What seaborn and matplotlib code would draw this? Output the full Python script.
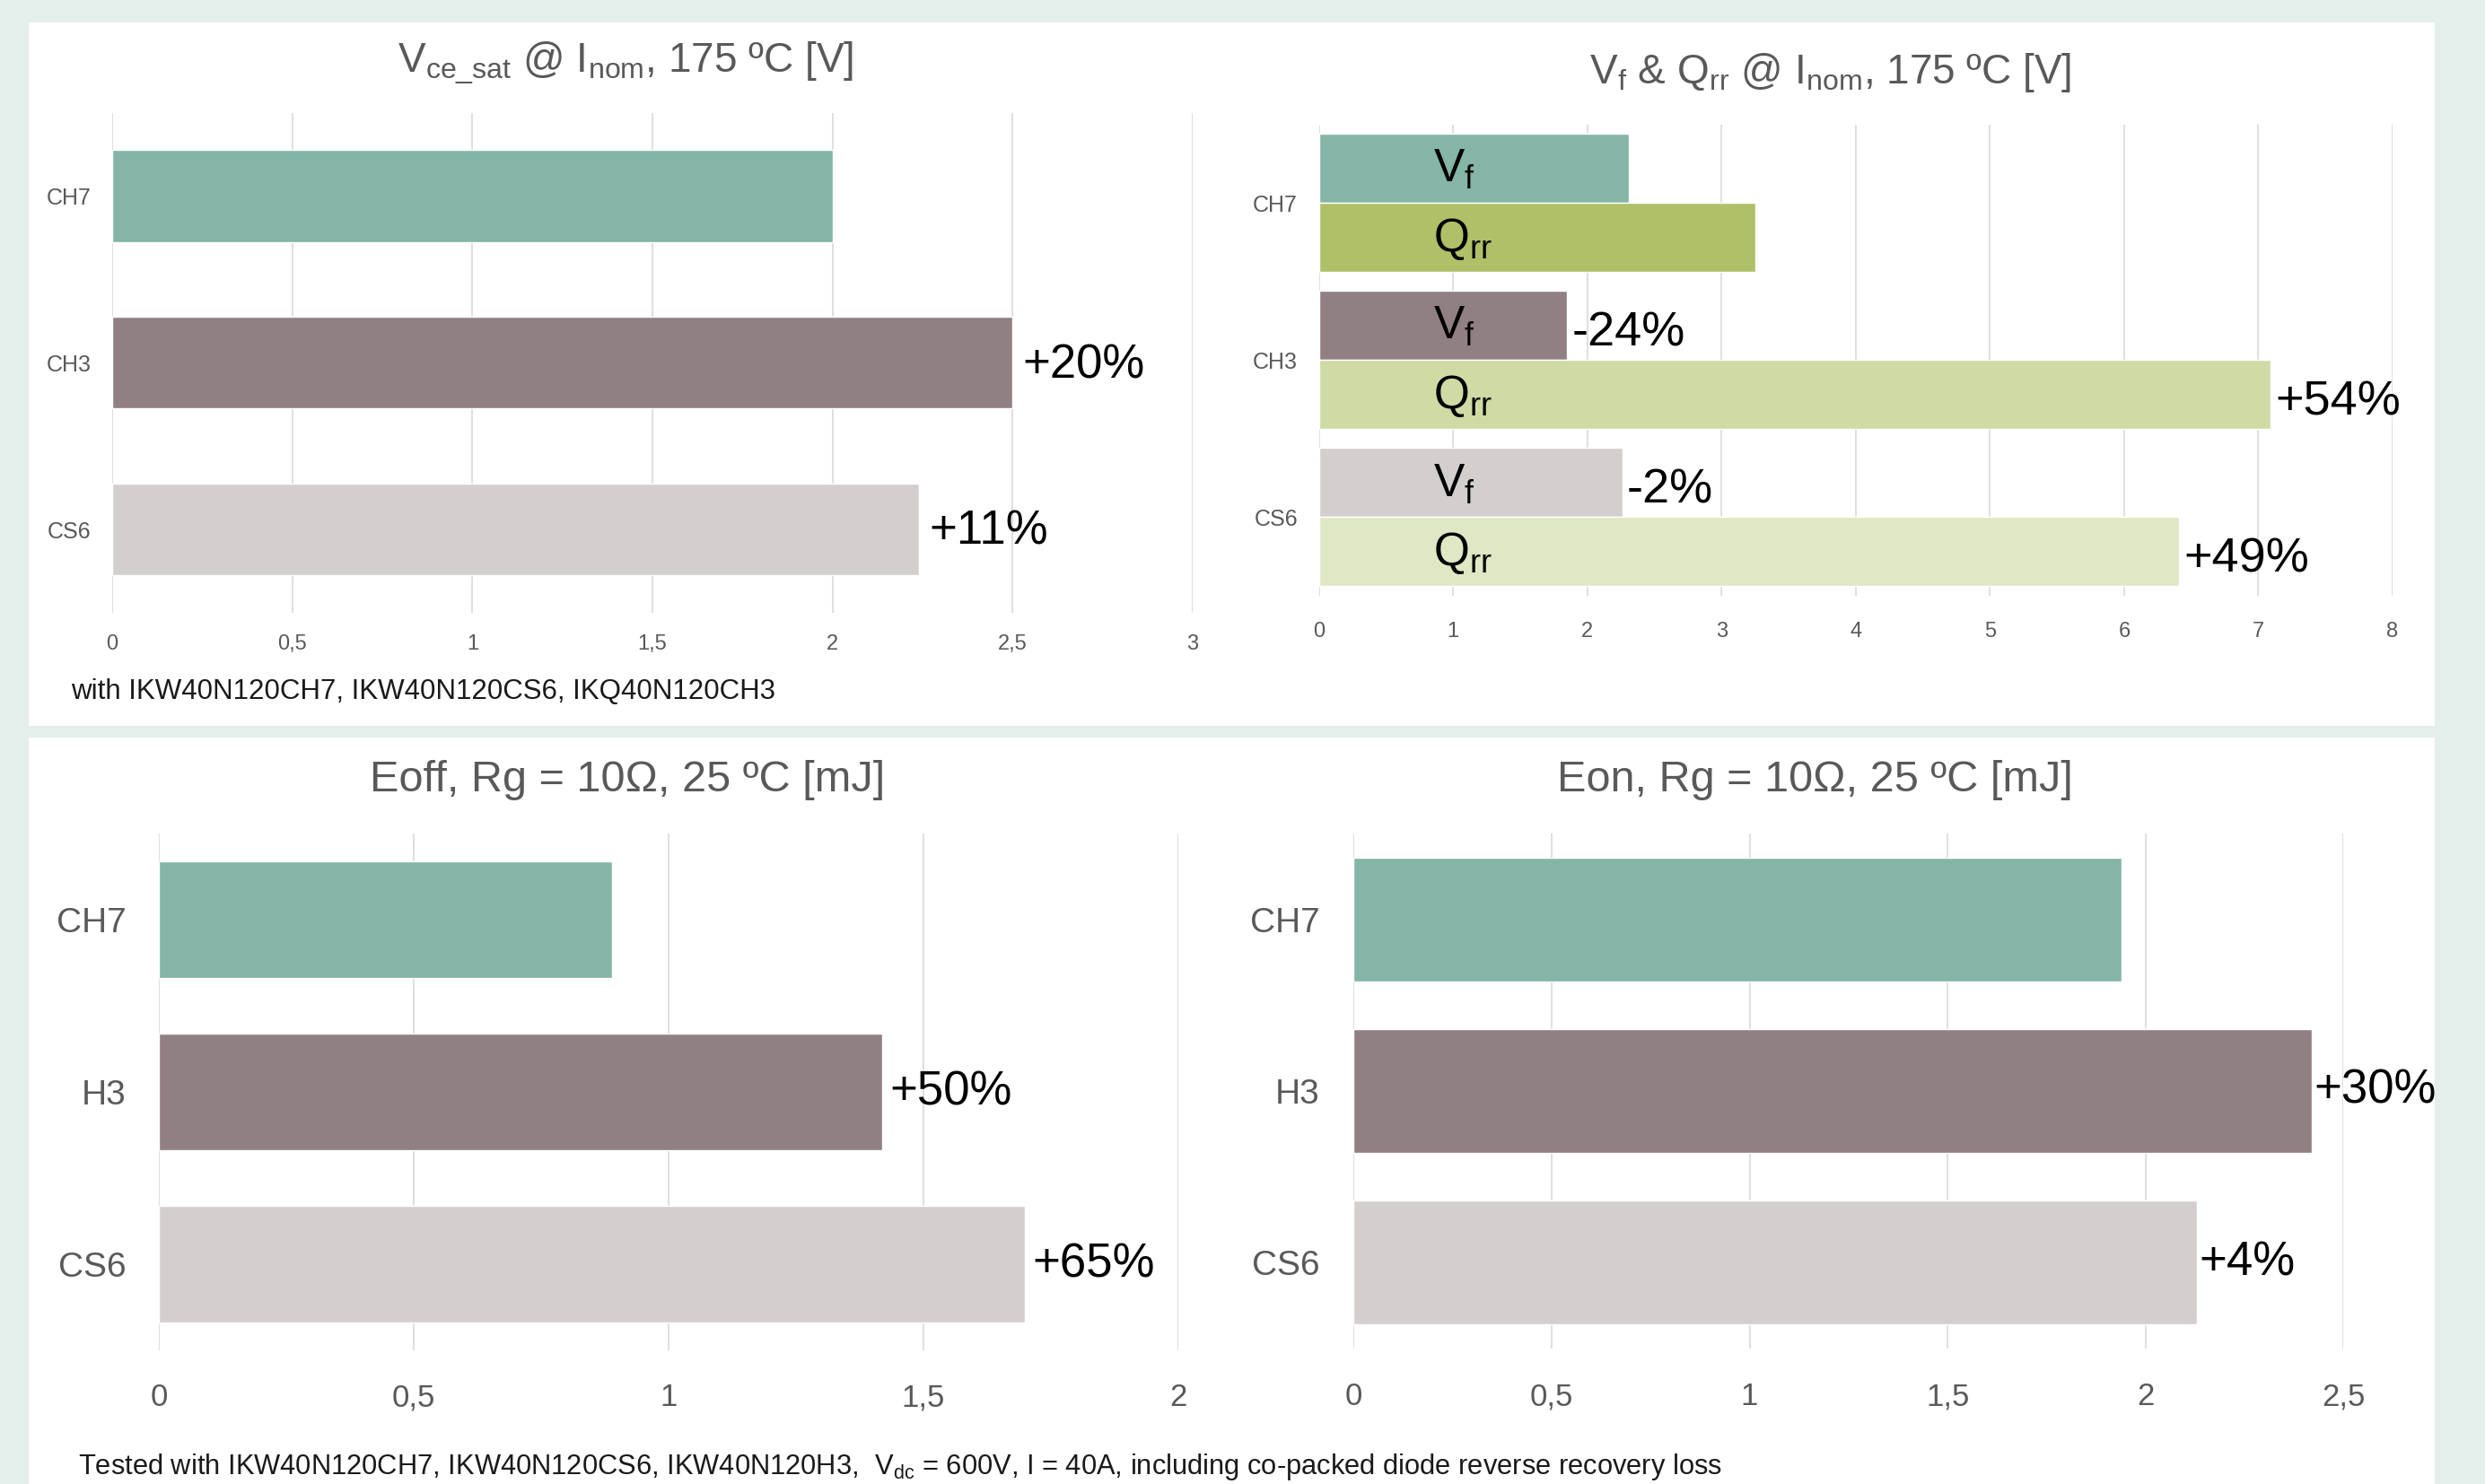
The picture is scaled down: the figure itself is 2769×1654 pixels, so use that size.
import matplotlib
matplotlib.use("Agg")
import matplotlib.pyplot as plt
from matplotlib.patches import Rectangle
from matplotlib.ticker import FuncFormatter, MultipleLocator
import seaborn as sns
import pandas as pd

# ---------------- data ----------------
cats_top = ["CH7", "CH3", "CS6"]
vce_sat = [2.0, 2.5, 2.24]
vce_labels = ["", "+20%", "+11%"]

vf = [2.31, 1.85, 2.26]
qrr = [3.25, 7.09, 6.41]
vf_labels = ["", "-24%", "-2%"]
qrr_labels = ["", "+54%", "+49%"]
params = ["Vf", "Qrr"]
param_text = {"Vf": r"$\mathregular{V_f}$", "Qrr": r"$\mathregular{Q_{rr}}$"}

cats_bot = ["CH7", "H3", "CS6"]
eoff = [0.89, 1.42, 1.70]
eoff_labels = ["", "+50%", "+65%"]
eon = [1.94, 2.42, 2.13]
eon_labels = ["", "+30%", "+4%"]

colors_main = ["#84b5a6", "#918083", "#d4cfcf"]
colors_qrr = ["#afc068", "#cfdaa5", "#dfe7c4"]

# ---------------- style ----------------
sns.set_style("white")
plt.rcParams["font.family"] = ["Liberation Sans", "DejaVu Sans"]
plt.rcParams["mathtext.fontset"] = "custom"
plt.rcParams["mathtext.rm"] = "Liberation Sans"

GRAY = "#595959"
W, H = 2769, 1654
fig = plt.figure(figsize=(W / 100, H / 100), dpi=100, facecolor="#e4eeea")

# white panels
for (x0, y0, x1, y1) in [(32, 25, 2713, 809), (32, 822, 2713, H + 5)]:
    fig.patches.append(Rectangle((x0 / W, 1 - y1 / H), (x1 - x0) / W, (y1 - y0) / H,
                                 transform=fig.transFigure, facecolor="white",
                                 edgecolor="none", zorder=-5))


def px_axes(x0, y0, x1, y1):
    return fig.add_axes([x0 / W, 1 - y1 / H, (x1 - x0) / W, (y1 - y0) / H])


comma = FuncFormatter(lambda v, p: f"{v:g}".replace(".", ","))


def style_axis(ax, xmax, step, ysize, xsize, ypad, xpad):
    ax.set_facecolor("white")
    ax.set_xlim(0, xmax)
    ax.set_ylim(2.5, -0.5)
    ax.xaxis.set_major_locator(MultipleLocator(step))
    ax.xaxis.set_major_formatter(comma)
    for s in ax.spines.values():
        s.set_visible(False)
    ax.grid(axis="x", color="#d9d9d9", linewidth=1.2)
    ax.grid(axis="y", visible=False)
    ax.set_axisbelow(True)
    ax.tick_params(axis="y", length=0, labelsize=ysize, labelcolor=GRAY, pad=ypad)
    ax.tick_params(axis="x", length=0, labelsize=xsize, labelcolor=GRAY, pad=xpad)
    ax.set_xlabel("")
    ax.set_ylabel("")


def shift_labels(anns, dy):
    for a in anns:
        x, y = a.xyann
        a.xyann = (x, y + dy)


# ---------------- chart 1: Vce_sat ----------------
ax1 = px_axes(125, 125.5, 1329, 683)
df1 = pd.DataFrame({"device": cats_top, "value": vce_sat})
sns.barplot(data=df1, y="device", x="value", hue="device", orient="h",
            palette=dict(zip(cats_top, colors_main)), width=0.55,
            saturation=1, legend=False, ax=ax1)
style_axis(ax1, 3, 0.5, 18, 17, 17, 17)
for c, lab in zip(ax1.containers, vce_labels):
    anns = ax1.bar_label(c, labels=[lab], padding=8, fontsize=38, color="black")
    shift_labels(anns, -2)

# ---------------- chart 2: Vf & Qrr ----------------
ax2 = px_axes(1469.5, 138.6, 2666, 664)
df2 = pd.DataFrame({"device": cats_top * 2,
                    "param": [params[0]] * 3 + [params[1]] * 3,
                    "value": vf + qrr})
sns.barplot(data=df2, y="device", x="value", hue="param", orient="h",
            hue_order=params, width=0.88, dodge=True, saturation=1,
            legend=False, ax=ax2)
style_axis(ax2, 8, 1, 18, 17, 17, 21)
for cont, cols, labs, prm in zip(ax2.containers, [colors_main, colors_qrr],
                                 [vf_labels, qrr_labels], params):
    for p, col in zip(cont.patches, cols):
        p.set_facecolor(col)
        ax2.annotate(param_text[prm], xy=(0, p.get_y() + p.get_height() / 2),
                     xytext=(92, -11), textcoords="offset points",
                     ha="left", va="baseline", fontsize=37, color="black")
    anns = ax2.bar_label(cont, labels=labs, padding=4, fontsize=39, color="black")
    shift_labels(anns, -6)

# ---------------- chart 3: Eoff ----------------
ax3 = px_axes(177, 929, 1312.5, 1505)
df3 = pd.DataFrame({"device": cats_bot, "value": eoff})
sns.barplot(data=df3, y="device", x="value", hue="device", orient="h",
            palette=dict(zip(cats_bot, colors_main)), width=0.68,
            saturation=1, legend=False, ax=ax3)
style_axis(ax3, 2, 0.5, 28, 25, 26, 26)
for c, lab in zip(ax3.containers, eoff_labels):
    ax3.bar_label(c, labels=[lab], padding=6, fontsize=38, color="black")

# ---------------- chart 4: Eon ----------------
ax4 = px_axes(1508.4, 929, 2611.3, 1503)
df4 = pd.DataFrame({"device": cats_bot, "value": eon})
sns.barplot(data=df4, y="device", x="value", hue="device", orient="h",
            palette=dict(zip(cats_bot, colors_main)), width=0.72,
            saturation=1, legend=False, ax=ax4)
style_axis(ax4, 2.5, 0.5, 28, 25, 27, 27)
for c, lab in zip(ax4.containers, eon_labels):
    ax4.bar_label(c, labels=[lab], padding=2, fontsize=38, color="black")

# ---------------- titles & notes ----------------
def ftext(x, y, s, **kw):
    fig.text(x / W, 1 - y / H, s, **kw)


ftext(697, 81, r"$\mathregular{V_{ce\_sat}}$ @ $\mathregular{I_{nom}}$, 175 ºC [V]",
      ha="center", va="baseline", fontsize=33, color=GRAY)
ftext(2040, 93, r"$\mathregular{V_f}$ & $\mathregular{Q_{rr}}$ @ $\mathregular{I_{nom}}$, 175 ºC [V]",
      ha="center", va="baseline", fontsize=33, color=GRAY)
ftext(699, 882, "Eoff, Rg = 10Ω, 25 ºC [mJ]", ha="center", va="baseline",
      fontsize=35, color=GRAY)
ftext(2022, 882, "Eon, Rg = 10Ω, 25 ºC [mJ]", ha="center", va="baseline",
      fontsize=35, color=GRAY)
ftext(79, 779, "with IKW40N120CH7, IKW40N120CS6, IKQ40N120CH3", ha="left",
      va="baseline", fontsize=22.5, color="#1a1a1a")
ftext(87, 1643, r"Tested with IKW40N120CH7, IKW40N120CS6, IKW40N120H3,  $\mathregular{V_{dc}}$ = 600V, I = 40A, including co-packed diode reverse recovery loss",
      ha="left", va="baseline", fontsize=22.2, color="#1a1a1a")

fig.savefig("out.png", dpi=100, facecolor=fig.get_facecolor())
